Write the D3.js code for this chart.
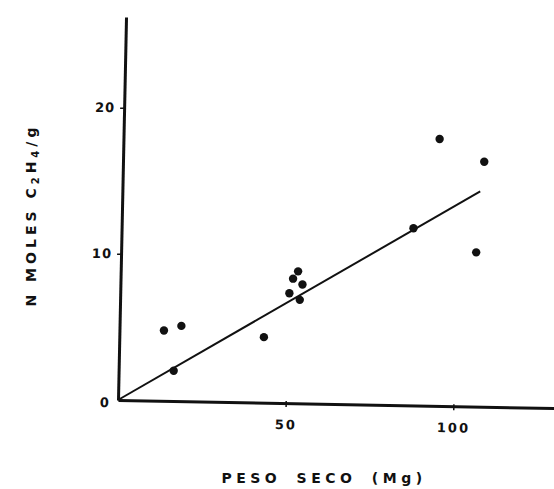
<!DOCTYPE html>
<html>
<head>
<meta charset="utf-8">
<script src="https://cdn.jsdelivr.net/npm/d3@7"></script>
<style>
  body { margin: 0; background: #ffffff; }
  text { font-family: "DejaVu Sans", sans-serif; font-weight: bold; fill: #111; }
</style>
</head>
<body>
<svg id="mainsvg" width="554" height="489"></svg>
<script>

// peso seco (Mg) vs n moles C2H4/g
const pesoSeco = [13.7, 18.9, 16.6, 43.5, 53.7, 52.2, 55.0, 51.1, 54.2, 88.1, 95.9, 109.2, 106.8]
const nMoles   = [4.75, 5.07, 2.0, 4.3, 8.8, 8.3, 7.9, 7.3, 6.85, 11.75, 17.85, 16.3, 10.1]

// regression line end points
const fitX = [0, 108]
const fitY = [0, 14.27]

const xTicks = [50, 100]
const yTicks = [0, 10, 20]

const ORIGIN = { x: 118, y: 400 }

let svg = d3.select("#mainsvg")

let x = d3.scaleLinear().domain([0, 130]).range([0, 436])
let y = d3.scaleLinear().domain([0, 26.2]).range([0, -383])

// y axis, hand drawn so slightly leaning
let yAxis = svg.append("g")
    .attr("transform", `translate(${ORIGIN.x}, ${ORIGIN.y}) skewX(-1.2)`)
    .call(d3.axisLeft(y).tickValues(yTicks).tickSize(4).tickSizeOuter(0).tickFormat(d3.format("d")))

yAxis.select(".domain").attr("stroke", "#111").attr("stroke-width", 3)
yAxis.selectAll(".tick line").attr("stroke", "#111").attr("stroke-width", 1.5)
yAxis.selectAll(".tick text")
    .attr("x", -9)
    .style("font-size", "13px")
    .style("font-family", "DejaVu Sans")
    .style("font-weight", "bold")
    .attr("letter-spacing", 1)
yAxis.selectAll(".tick").filter(d => d === 0).select("line").remove()
yAxis.selectAll(".tick").filter(d => d === 0).select("text").attr("dy", "0.5em").attr("x", -8)

// x axis
let xAxis = svg.append("g")
    .attr("transform", `translate(${ORIGIN.x}, ${ORIGIN.y}) rotate(1.05)`)
    .call(d3.axisBottom(x).tickValues(xTicks).tickSize(4).tickSizeOuter(0))

xAxis.select(".domain").attr("stroke", "#111").attr("stroke-width", 3)
xAxis.selectAll(".tick line").attr("stroke", "#111").attr("stroke-width", 1.5).attr("y1", -2)
xAxis.selectAll(".tick text")
    .attr("y", 17)
    .style("font-size", "13px")
    .style("font-family", "DejaVu Sans")
    .style("font-weight", "bold")
    .attr("letter-spacing", 2)

// data
let plot = svg.append("g").attr("transform", `translate(${ORIGIN.x}, ${ORIGIN.y})`)

plot.append("line")
    .attr("x1", x(fitX[0])).attr("y1", y(fitY[0]))
    .attr("x2", x(fitX[1])).attr("y2", y(fitY[1]))
    .attr("stroke", "#111")
    .attr("stroke-width", 2)

plot.selectAll("circle")
    .data(pesoSeco)
    .enter()
    .append("circle")
    .attr("cx", d => x(d))
    .attr("cy", (d, i) => y(nMoles[i]))
    .attr("r", 4.2)
    .attr("fill", "#111")

// axis titles
svg.append("text")
    .attr("x", 324)
    .attr("y", 483)
    .attr("text-anchor", "middle")
    .attr("letter-spacing", 4.5)
    .attr("word-spacing", 6)
    .style("font-size", "14px")
    .text("PESO SECO (Mg)")

let yt = svg.append("text")
    .attr("transform", "translate(36, 215) rotate(-90)")
    .attr("text-anchor", "middle")
    .attr("letter-spacing", 4)
    .style("font-size", "14px")
yt.append("tspan").text("N MOLES C")
yt.append("tspan").attr("baseline-shift", "-25%").style("font-size", "10px").text("2")
yt.append("tspan").text("H")
yt.append("tspan").attr("baseline-shift", "-25%").style("font-size", "10px").text("4")
yt.append("tspan").text("/g")

</script>
</body>
</html>
